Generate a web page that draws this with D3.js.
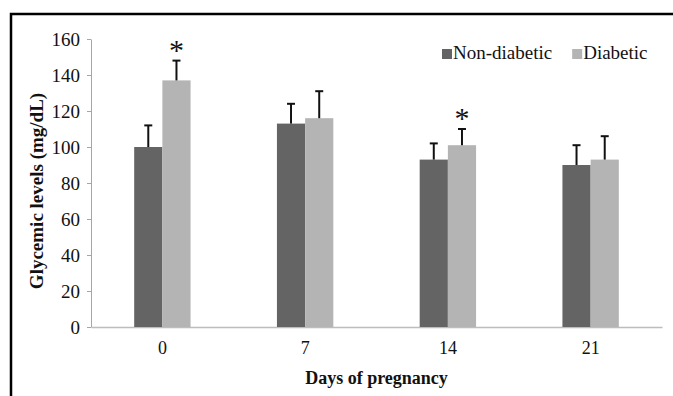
<!DOCTYPE html>
<html>
<head>
<meta charset="utf-8">
<script src="https://cdn.jsdelivr.net/npm/d3@7"></script>
<style>
    body { margin: 0; background: #fff; }
    svg text { font-family: "Liberation Serif", "DejaVu Serif", serif !important; }
</style>
</head>
<body>
<svg id="chart" width="673" height="396"></svg>
<script>
// values
let days = ["0", "7", "14", "21"];
let seriesNames = ["Non-diabetic", "Diabetic"];
let nonDiabetic = [100, 113, 93, 90];
let diabetic = [137, 116, 101, 93];
let nonDiabeticErr = [12, 11, 9, 11];
let diabeticErr = [11, 15, 9, 13];
let diabeticSignif = [true, false, true, false];
let yTicks = [0, 20, 40, 60, 80, 100, 120, 140, 160];

let colors = ["#646464", "#b4b4b4"];

let svg = d3.select("#chart");
let width = 673;
let height = 396;

// plot area
let plotL = 91, plotR = 662, plotT = 39, plotB = 327;

// outer frame (only top and left edges show in the crop)
svg.append("path")
    .attr("d", "M11," + height + "V14H" + width)
    .attr("fill", "none")
    .attr("stroke", "#000")
    .attr("stroke-width", 2.5);

let x = d3.scaleBand()
    .domain(days)
    .range([plotL, plotR])
    .paddingInner(0.605)
    .paddingOuter(0.3025);

let xs = d3.scaleBand()
    .domain(seriesNames)
    .range([0, x.bandwidth()]);

let y = d3.scaleLinear()
    .domain([0, 160])
    .range([plotB, plotT]);

// y axis
let yAxis = svg.append("g")
    .attr("transform", "translate(" + plotL + ",0)")
    .call(d3.axisLeft(y).tickValues(yTicks).tickSize(4).tickPadding(7).tickSizeOuter(0));
yAxis.select(".domain").attr("stroke", "#a6a6a6");
yAxis.selectAll(".tick line").attr("stroke", "#a6a6a6");
yAxis.selectAll("text")
    .attr("font-size", 19)
    .attr("fill", "#111");

// x axis
let xAxis = svg.append("g")
    .attr("transform", "translate(0," + plotB + ")")
    .call(d3.axisBottom(x).tickSize(0).tickPadding(14).tickSizeOuter(0));
xAxis.select(".domain").attr("stroke", "#bdbdbd").attr("stroke-width", 1.5);
xAxis.selectAll("text")
    .attr("font-size", 18)
    .attr("fill", "#111");

let rows = days.map((d, i) => ({
    day: d,
    vals: [
        { name: seriesNames[0], v: nonDiabetic[i], e: nonDiabeticErr[i], sig: false },
        { name: seriesNames[1], v: diabetic[i], e: diabeticErr[i], sig: diabeticSignif[i] }
    ]
}));

let groups = svg.selectAll(".grp")
    .data(rows)
    .enter()
    .append("g")
    .attr("class", "grp")
    .attr("transform", d => "translate(" + x(d.day) + ",0)");

let bars = groups.selectAll(".bar")
    .data(d => d.vals)
    .enter()
    .append("g")
    .attr("class", "bar");

bars.append("rect")
    .attr("x", d => xs(d.name))
    .attr("y", d => y(d.v))
    .attr("width", xs.bandwidth())
    .attr("height", d => y(0) - y(d.v))
    .attr("fill", (d, i) => colors[i]);

// error bars, upper half only
bars.append("line")
    .attr("x1", d => xs(d.name) + xs.bandwidth() / 2)
    .attr("x2", d => xs(d.name) + xs.bandwidth() / 2)
    .attr("y1", d => y(d.v))
    .attr("y2", d => y(d.v + d.e))
    .attr("stroke", "#111")
    .attr("stroke-width", 2);

bars.append("line")
    .attr("x1", d => xs(d.name) + xs.bandwidth() / 2 - 4)
    .attr("x2", d => xs(d.name) + xs.bandwidth() / 2 + 4)
    .attr("y1", d => y(d.v + d.e))
    .attr("y2", d => y(d.v + d.e))
    .attr("stroke", "#111")
    .attr("stroke-width", 2);

bars.filter(d => d.sig)
    .append("text")
    .attr("x", d => xs(d.name) + xs.bandwidth() / 2)
    .attr("y", d => y(d.v + d.e) - 1)
    .attr("text-anchor", "middle")
    .attr("font-size", 30)
    .attr("fill", "#111")
    .text("*");

// axis titles
svg.append("text")
    .attr("transform", "translate(43,191) rotate(-90)")
    .attr("text-anchor", "middle")
    .attr("font-size", 19)
    .attr("font-weight", "bold")
    .attr("fill", "#111")
    .text("Glycemic levels (mg/dL)");

svg.append("text")
    .attr("x", (plotL + plotR) / 2)
    .attr("y", 384)
    .attr("text-anchor", "middle")
    .attr("font-size", 18)
    .attr("font-weight", "bold")
    .attr("fill", "#111")
    .text("Days of pregnancy");

// legend
let legend = svg.append("g").attr("transform", "translate(442,0)");
let lx = 0;
seriesNames.forEach((name, i) => {
    let item = legend.append("g").attr("transform", "translate(" + lx + ",0)");
    item.append("rect")
        .attr("x", 0)
        .attr("y", 49)
        .attr("width", 10)
        .attr("height", 10)
        .attr("fill", colors[i]);
    let t = item.append("text")
        .attr("x", 11)
        .attr("y", 59)
        .attr("font-size", 19)
        .attr("fill", "#111")
        .text(name);
    lx += 11 + t.node().getComputedTextLength() + 20;
});
</script>
</body>
</html>
